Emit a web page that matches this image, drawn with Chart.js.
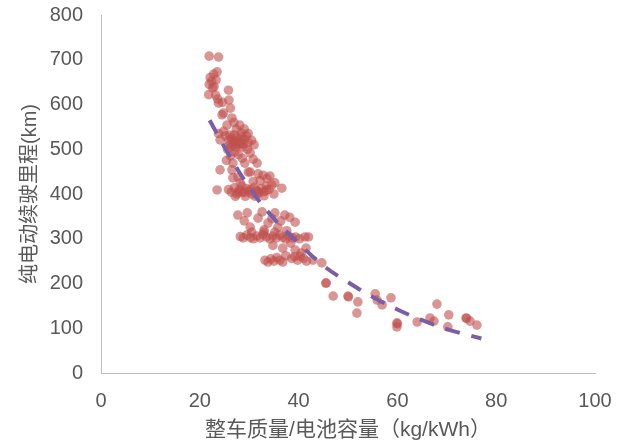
<!DOCTYPE html>
<html>
<head>
<meta charset="utf-8">
<script src="https://cdn.jsdelivr.net/npm/chart.js@4/dist/chart.umd.min.js"></script>
<style>
  html, body { margin: 0; padding: 0; background: #fff; }
</style>
</head>
<body>
<canvas id="chart" width="624" height="443"></canvas>
<script>
// 整车质量/电池容量 (kg/kWh) vs 纯电动续驶里程 (km)
const samples = [
    // top
    [21.9, 708], [23.8, 706], [22.1, 660], [22.8, 668], [23.5, 673], [22.4, 652], [21.9, 645],
    [22.6, 637], [21.8, 622], [23.2, 621], [23.6, 612], [24.6, 605], [25.8, 632], [25.9, 610],
    [23.8, 603], [26.2, 592], [24.8, 581], [22.9, 640], [23.3, 655],
    // 440 - 580
    [24.5, 577], [26.5, 570], [25.5, 554], [28.1, 554], [26.1, 532], [28.5, 527], [26.7, 514],
    [28.7, 505], [24.1, 521], [29.8, 514], [27.1, 494], [30.2, 492], [31.6, 469], [29.1, 469],
    [26.7, 469], [24.1, 454], [26.5, 454], [30.2, 449], [32.8, 442], [27.7, 438],
    [25.2, 530], [25.8, 520], [26.4, 525], [27.0, 532], [27.5, 518], [28.0, 510], [28.4, 536],
    [29.0, 522], [29.4, 530], [30.5, 520], [27.2, 505], [25.6, 500], [26.0, 510], [29.6, 500],
    [31.0, 510], [27.8, 488], [26.2, 485], [28.6, 480], [25.4, 475], [30.8, 478], [27.4, 545],
    [29.0, 545], [24.8, 540], [23.8, 535], [26.9, 560], [29.8, 535],
    [26.8, 520], [27.6, 525], [28.2, 515], [28.8, 512], [27.3, 512], [26.4, 505],
    // around 410
    [25.8, 410], [26.4, 404], [27.0, 414], [27.5, 400], [28.0, 409], [28.5, 418], [29.0, 403],
    [29.5, 412], [30.0, 406], [30.5, 400], [31.0, 415], [31.5, 408], [32.0, 402], [32.5, 412],
    [33.0, 405], [33.5, 418], [34.0, 410], [34.6, 420], [36.6, 413], [23.5, 409], [26.7, 436],
    [29.8, 449], [28.2, 425], [30.8, 428], [32.2, 430], [33.6, 435], [35.2, 425], [27.2, 395],
    [29.2, 395], [31.2, 395], [33.0, 396], [35.0, 400], [34.2, 440], [31.8, 445],
    [28.6, 405], [30.2, 410], [31.8, 405], [33.4, 408], [27.8, 404],
    // around 350
    [27.7, 353], [29.6, 358], [32.6, 360], [35.2, 358], [37.2, 353], [39.3, 337], [31.8, 346],
    [33.8, 335], [30.2, 326], [29.0, 340], [34.6, 345], [36.4, 340], [38.2, 348], [35.8, 325],
    [33.0, 320],
    // around 300
    [28.2, 305], [28.8, 302], [29.5, 308], [30.2, 303], [30.8, 300], [31.5, 306], [32.2, 302],
    [32.8, 309], [33.5, 304], [34.2, 300], [34.8, 306], [35.5, 302], [36.2, 308], [36.8, 303],
    [37.4, 300], [38.0, 306], [38.7, 302], [39.4, 304], [40.2, 300], [41.3, 304], [42.0, 304],
    [33.0, 315], [35.2, 315], [37.6, 318], [30.5, 315],
    [36.8, 279], [39.3, 275], [41.5, 279], [38.4, 290], [40.5, 268], [34.8, 285],
    // around 255
    [33.2, 252], [33.8, 248], [34.4, 255], [35.0, 250], [35.6, 258], [36.2, 252], [38.6, 256],
    [39.2, 260], [39.8, 252], [40.3, 261], [41.0, 256], [41.6, 250], [42.9, 252], [37.4, 262],
    [36.8, 248],
    // tail
    [44.7, 246], [45.5, 201], [45.6, 201], [47.0, 172], [50.0, 172], [50.1, 170], [52.0, 159],
    [51.8, 134], [55.5, 177], [55.9, 163], [56.9, 152], [58.7, 168], [59.9, 112], [60.0, 110],
    [59.9, 103], [64.0, 114], [66.6, 123], [67.4, 116], [68.0, 154], [70.4, 130], [70.2, 103],
    [73.9, 123], [74.0, 122], [74.7, 116], [76.1, 107]
];

// 趋势线
const trendRatio = [22, 25, 30, 35, 40, 45, 50, 55, 60, 65, 70, 77];
const trendRange = [565, 505, 415, 345, 290, 240, 203, 170, 142, 118, 98, 77];

const xTitle = '整车质量/电池容量（kg/kWh）';
const yTitle = '纯电动续驶里程(km)';

const fontFamily = '"Liberation Sans", "Noto Sans CJK SC", sans-serif';
const textColor = '#595959';

const ctx = document.getElementById('chart').getContext('2d');
const chart = new Chart(ctx, {
    type: 'scatter',
    data: {
        datasets: [
            {
                label: 'trend',
                type: 'line',
                data: trendRatio.map((x, i) => ({ x: x, y: trendRange[i] })),
                borderColor: '#7A5EA6',
                borderWidth: 4,
                borderDash: [15, 12],
                pointRadius: 0,
                tension: 0.4,
                fill: false,
                order: 0
            },
            {
                label: 'samples',
                data: samples.map(p => ({ x: p[0], y: p[1] })),
                backgroundColor: 'rgba(192, 80, 77, 0.6)',
                borderWidth: 0,
                pointRadius: 4.8,
                order: 1
            }
        ]
    },
    options: {
        responsive: false,
        animation: false,
        layout: { padding: { top: 15, right: 29, left: 0, bottom: 0 } },
        plugins: {
            legend: { display: false },
            tooltip: { enabled: false }
        },
        scales: {
            x: {
                type: 'linear',
                min: 0,
                max: 100,
                grid: { display: false },
                border: { color: '#bfbfbf', width: 1 },
                ticks: {
                    stepSize: 20,
                    padding: 8,
                    color: textColor,
                    font: { family: fontFamily, size: 20 }
                },
                title: {
                    display: true,
                    text: xTitle,
                    color: textColor,
                    font: { family: fontFamily, size: 21 },
                    padding: { top: 3, bottom: 0 }
                },
                afterFit: (s) => {
                    s.height = 70;
                    s.paddingLeft = 0;
                    s.paddingRight = 0;
                }
            },
            y: {
                min: 0,
                max: 800,
                grid: { display: false },
                border: { color: '#bfbfbf', width: 1 },
                ticks: {
                    stepSize: 100,
                    padding: 10,
                    color: textColor,
                    font: { family: fontFamily, size: 20 }
                },
                title: {
                    display: true,
                    text: yTitle,
                    color: textColor,
                    font: { family: fontFamily, size: 20 },
                    padding: { top: 18, bottom: 0 }
                },
                afterFit: (s) => {
                    s.width = 101;
                    s.paddingTop = 0;
                    s.paddingBottom = 0;
                }
            }
        }
    }
});
</script>
</body>
</html>
